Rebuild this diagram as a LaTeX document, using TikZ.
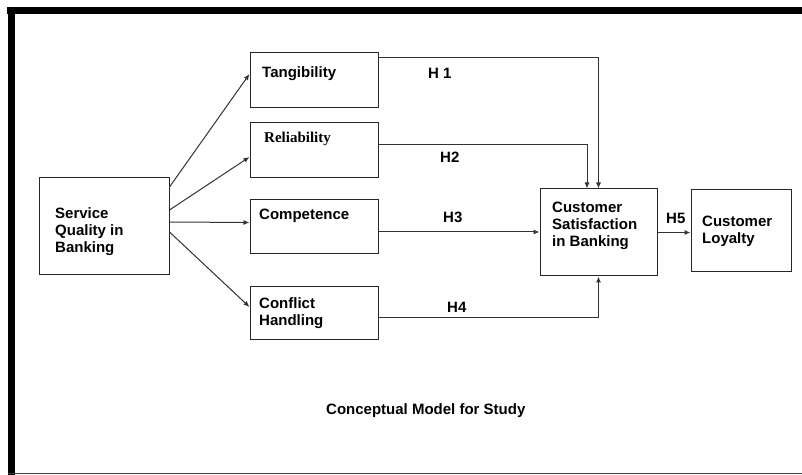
\documentclass[tikz,border=0pt]{standalone}
\usepackage{fontspec}
\setmainfont{Liberation Sans}
\newfontfamily\serifbold{Liberation Serif}
\usetikzlibrary{arrows.meta}
\begin{document}
\begin{tikzpicture}[x=1bp,y=-1bp,
  box/.style={draw=black!85,line width=1bp,rectangle,inner sep=0pt},
  lbl/.style={inner sep=0pt,anchor=west,align=left,font=\fontsize{15bp}{17bp}\selectfont\bfseries},
  hyp/.style={inner sep=0pt,anchor=west,font=\fontsize{15bp}{17bp}\selectfont\bfseries},
  conn/.style={draw=black!80,line width=1bp,-{Latex[length=6bp,width=5bp]}},
]
\useasboundingbox (0,0) rectangle (802,475);
\fill[white] (0,0) rectangle (802,475);
% frame
\fill[black] (7,7) rectangle (802,14);
\fill[black] (8,7) rectangle (15,475);
\fill[black!75] (8,472.5) rectangle (802,474);

% boxes
\node[box,minimum width=129bp,minimum height=97bp] (sq) at (104.5,226.5) {};
\node[box,minimum width=128bp,minimum height=55bp] (tan) at (314,80.5) {};
\node[box,minimum width=128bp,minimum height=55bp] (rel) at (314,150.5) {};
\node[box,minimum width=128bp,minimum height=54bp] (com) at (314,227) {};
\node[box,minimum width=128bp,minimum height=53bp] (con) at (314,313.5) {};
\node[box,minimum width=117bp,minimum height=87bp] (sat) at (598.5,232.5) {};
\node[box,minimum width=100bp,minimum height=82bp] (loy) at (741,231) {};

% texts
\node[lbl] (sqt) at (55,232) {Service\\Quality in\\Banking};
\node[lbl] (tant) at (262,74) {Tangibility};
\node[lbl,font=\fontsize{15bp}{17bp}\selectfont\serifbold\bfseries] (relt) at (264,139) {Reliability};
\node[lbl] (comt) at (259,216) {Competence};
\node[lbl] (cont) at (259,313.5) {Conflict\\Handling};
\node[lbl] (satt) at (552,226) {Customer\\Satisfaction\\in Banking};
\node[lbl] (loyt) at (702,231) {Customer\\Loyalty};

% arrows from service quality
\draw[conn] ([yshift=39.5bp]sq.east) -- ([yshift=6.5bp]tan.west);
\draw[conn] ([yshift=16.5bp]sq.east) -- ([yshift=-6.5bp]rel.west);
\draw[conn] ([yshift=4.5bp]sq.east) -- ([yshift=4.5bp]com.west);
\draw[conn] ([yshift=-5.5bp]sq.east) -- ([yshift=6.5bp]con.west);

% hypotheses
\coordinate (h1s) at ([yshift=22.5bp]tan.east);
\coordinate (h2s) at ([yshift=5.5bp]rel.east);
\coordinate (h2e) at ([xshift=-11.5bp]sat.north);
\coordinate (h3s) at ([yshift=-5bp]com.east);
\coordinate (h4s) at ([yshift=-4.5bp]con.east);
\draw[conn] (h1s) -| (sat.north);
\draw[conn] (h2s) -| (h2e);
\draw[conn] (h3s) -- (h3s -| sat.west);
\draw[conn] (h4s) -| (sat.south);
\draw[conn] (sat.east) -- (sat.east -| loy.west);

\node[hyp] (h1) at (428,73) {H 1};
\node[hyp] (h2) at (440,157) {H2};
\node[hyp] (h3) at (443,217) {H3};
\node[hyp] (h4) at (447,307) {H4};
\node[hyp] (h5) at (666,218) {H5};

\node[hyp] (cap) at (326,411) {Conceptual Model for Study};
\end{tikzpicture}
\end{document}
